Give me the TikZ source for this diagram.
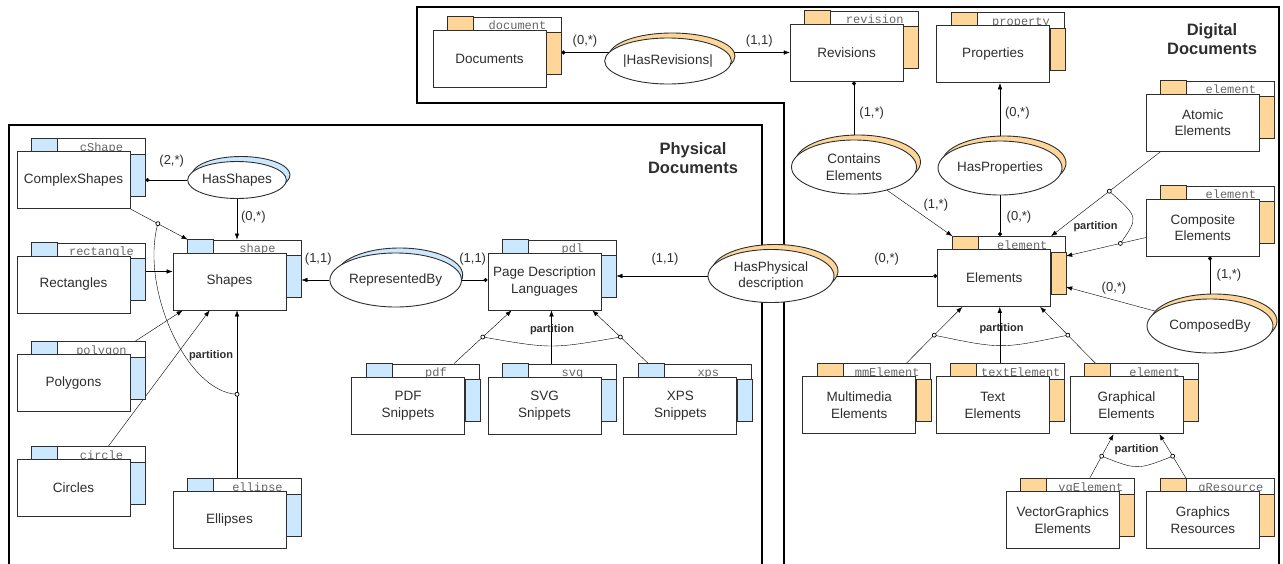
\documentclass[tikz,border=0pt]{standalone}
\usepackage{fontspec}
\setmainfont{Liberation Sans}
\setmonofont{Liberation Mono}
\usetikzlibrary{arrows.meta,calc,shapes.geometric}

\definecolor{physblue}{HTML}{CCE8FF}
\definecolor{digiorange}{HTML}{FFD699}
\definecolor{linegray}{HTML}{2E2E2E}
\definecolor{taggray}{HTML}{666666}

\pgfdeclarelayer{bg}
\pgfsetlayers{bg,main}

\tikzset{
  entback/.style={draw, fill=white, minimum width=113pt, minimum height=57pt, inner sep=0pt},
  entfront/.style={draw, fill=white, minimum width=113pt, minimum height=57pt, inner sep=0pt,
    align=center, font=\fontsize{13.5}{16.5}\selectfont},
  tagtext/.style={font=\ttfamily\fontsize{12}{12}\selectfont, text=taggray, inner sep=0pt, anchor=base},
  relback/.style={ellipse, draw, inner sep=0pt},
  relfront/.style={ellipse, draw, fill=white, inner sep=0pt, align=center,
    font=\fontsize{13.5}{16.5}\selectfont},
  card/.style={font=\fontsize{13}{15}\selectfont, inner sep=0pt},
  part/.style={font=\bfseries\fontsize{11}{13}\selectfont, inner sep=0pt},
  title/.style={font=\bfseries\fontsize{16.5}{19.5}\selectfont, align=center, inner sep=0pt},
  arr/.style={-{Latex[length=6pt,width=4.5pt]}},
  dotend/.style={-{Circle[length=4pt]}},
  frame/.style={line width=1.2pt},
}

% entity: name, position, label, tag, colour
\newcommand{\entity}[5]{%
  \node[entback] (#1-b) at ([shift={(15,-13)}]#2) {};
  \filldraw[fill=#5] (#1-b.north west) rectangle ++(26,16);
  \filldraw[fill=#5] ([shift={(-15,16)}]#1-b.north east) rectangle (#1-b.south east);
  \node[tagtext] (#1-t) at ([shift={(13,13)}]#1-b.north) {#4};
  \node[entfront] (#1) at (#2) {#3};}

% relationship: name, position, label, colour, width, height
\newcommand{\relship}[6]{%
  \node[relback, fill=#4, minimum width=#5, minimum height=#6] (#1-b) at ([shift={(4,-5)}]#2) {};
  \node[relfront, minimum width=#5, minimum height=#6] (#1) at (#2) {#3};}

\begin{document}
\begin{tikzpicture}[x=1pt,y=-1pt,line width=0.9pt,color=linegray]

  \useasboundingbox (0,0) rectangle (1283,563);

  % --- Physical documents: entities ---
  \entity{cs}{73.5,180}{ComplexShapes}{cShape}{physblue}
  \entity{rc}{73.5,284.5}{Rectangles}{rectangle}{physblue}
  \entity{pg}{73.5,383}{Polygons}{polygon}{physblue}
  \entity{ci}{73.5,488}{Circles}{circle}{physblue}
  \entity{sh}{229.5,281.5}{Shapes}{shape}{physblue}
  \entity{el}{229.5,520}{Ellipses}{ellipse}{physblue}
  \entity{pdl}{544.5,281.5}{Page Description\\Languages}{pdl}{physblue}
  \entity{pdf}{408,405.5}{PDF\\Snippets}{pdf}{physblue}
  \entity{svg}{544.5,405.5}{SVG\\Snippets}{svg}{physblue}
  \entity{xps}{680.3,405.5}{XPS\\Snippets}{xps}{physblue}

  % --- Digital documents: entities ---
  \entity{docs}{489.5,58.7}{Documents}{document}{digiorange}
  \entity{rev}{846.7,52.5}{Revisions}{revision}{digiorange}
  \entity{prop}{993,54.3}{Properties}{property}{digiorange}
  \entity{atom}{1202.8,122.5}{Atomic\\Elements}{element}{digiorange}
  \entity{comp}{1202.8,227.5}{Composite\\Elements}{element}{digiorange}
  \entity{elem}{994.2,278}{Elements}{element}{digiorange}
  \entity{mm}{859.2,405.3}{Multimedia\\Elements}{mmElement}{digiorange}
  \entity{txt}{992.8,405.3}{Text\\Elements}{textElement}{digiorange}
  \entity{gr}{1126.5,405.3}{Graphical\\Elements}{element}{digiorange}
  \entity{vg}{1062.8,520}{VectorGraphics\\Elements}{vgElement}{digiorange}
  \entity{gres}{1202.8,520}{Graphics\\Resources}{gResource}{digiorange}

  % --- Relationships ---
  \relship{hasSh}{237,180}{HasShapes}{physblue}{98pt}{37pt}
  \relship{repBy}{395.7,280}{RepresentedBy}{physblue}{126pt}{54pt}
  \relship{hasPh}{771,276}{HasPhysical\\description}{digiorange}{126pt}{53pt}
  \relship{hasRev}{668,61}{|HasRevisions|}{digiorange}{126pt}{46pt}
  \relship{contEl}{854,167}{Contains\\Elements}{digiorange}{125pt}{54pt}
  \relship{hasProp}{1000,168}{HasProperties}{digiorange}{124pt}{54pt}
  \relship{compBy}{1210,326}{ComposedBy}{digiorange}{126pt}{54pt}

  % --- Titles ---
  \node[title] (t-phys) at (693,158) {Physical\\Documents};
  \node[title] (t-digi) at (1212,39) {Digital\\Documents};

  % --- Cardinalities ---
  \node[card] (c1) at (171.7,160.7) {(2,*)};
  \node[card] (c2) at (253.3,217.3) {(0,*)};
  \node[card] (c3) at (318.3,259.3) {(1,1)};
  \node[card] (c4) at (472.7,259.3) {(1,1)};
  \node[card] (c5) at (665,259.3) {(1,1)};
  \node[card] (c6) at (886.6,259) {(0,*)};
  \node[card] (c7) at (585,41) {(0,*)};
  \node[card] (c8) at (759.3,41) {(1,1)};
  \node[card] (c9) at (871.7,112.7) {(1,*)};
  \node[card] (c10) at (1017.3,112.7) {(0,*)};
  \node[card] (c11) at (935.8,205) {(1,*)};
  \node[card] (c12) at (1019,217.3) {(0,*)};
  \node[card] (c13) at (1229,275) {(1,*)};
  \node[card] (c14) at (1114,288.3) {(0,*)};

  % --- Partition labels ---
  \node[part] (p-sh) at (211,356) {partition};
  \node[part] (p-pdl) at (552,330) {partition};
  \node[part] (p-el1) at (1095.5,226.7) {partition};
  \node[part] (p-el2) at (1001.5,329) {partition};
  \node[part] (p-gr) at (1136.7,450) {partition};

  \begin{pgfonlayer}{bg}
    % frames
    \draw[frame] (9,570) -- (9,125) -- (762,125) -- (762,570);
    \draw[frame] (784,570) -- (784,103) -- (417,103) -- (417,7) -- (1279,7) -- (1279,570);

    % --- Physical documents ---
    \draw[dotend] (hasSh) -- (hasSh -| cs-b.east);
    \draw[arr] (hasSh) -- (hasSh |- sh-b.north);
    \draw[arr] (repBy) -- (repBy -| sh-b.east);
    \draw[dotend] (repBy) -- (repBy -| pdl.west);
    \draw[arr] (hasPh) -- (hasPh -| pdl-b.east);

    \draw[arr] (cs.south east) -- (sh-b.north west) coordinate[pos=0.48] (sh-p1);
    \draw[arr] (rc-b.east) -- (rc-b.east -| sh.west);
    \draw[arr] ([xshift=-10pt]pg-b.north east) -- ([xshift=10pt]sh.south west);
    \draw[arr] ([xshift=20pt]ci-b.north) -- ([xshift=37pt]sh.south west);
    \draw[arr] (el-b.north -| hasSh) -- (hasSh |- sh.south) coordinate[pos=0.5] (sh-p2);
    \draw (sh-p1) .. controls +(-18,65) and +(-50,-2) .. (sh-p2);
    \filldraw[fill=white,line width=0.7pt] (sh-p1) circle (2pt) (sh-p2) circle (2pt);

    \draw[arr] ([xshift=31pt]pdf-b.north) -- ([xshift=24pt]pdl.south west) coordinate[pos=0.5] (pdl-p1);
    \draw[arr] ([xshift=-8pt]svg-b.north) -- ([xshift=-8pt]svg-b.north |- pdl.south);
    \draw[arr] ([xshift=10pt]xps-b.north west) -- ([xshift=-9pt]pdl.south east) coordinate[pos=0.5] (pdl-p2);
    \draw (pdl-p1) .. controls ($(pdl-p1)!0.5!(pdl-p2)+(0,12)$) .. (pdl-p2);
    \filldraw[fill=white,line width=0.7pt] (pdl-p1) circle (2pt) (pdl-p2) circle (2pt);

    % --- Digital documents ---
    \draw[dotend] (hasPh) -- (hasPh -| elem.west);
    \draw[dotend] (hasRev.center |- rev) -- (docs-b.east |- rev);
    \draw[arr] (hasRev.center |- rev) -- (rev.west);
    \draw[dotend] (contEl) -- (contEl |- rev.south);
    \draw[arr] (hasProp) -- (hasProp |- prop.south);
    \draw[arr] (contEl) -- (elem-b.north west);
    \draw[dotend] (hasProp) -- (hasProp |- elem-b.north);
    \draw[dotend] (compBy) -- (compBy |- comp.south);
    \draw[arr] (compBy) -- ([yshift=-22pt]elem-b.east);

    \draw[arr] ([xshift=15pt]atom.south west) -- ([xshift=-15pt]elem-b.north east) coordinate[pos=0.47] (el-p1);
    \draw[arr] ([yshift=-10pt]comp.west) -- ([yshift=9pt]elem-b.east) coordinate[pos=0.32] (el-p2);
    \draw (el-p1) .. controls ($(el-p1)!0.5!(el-p2)+(24,0)$) .. (el-p2);
    \filldraw[fill=white,line width=0.7pt] (el-p1) circle (2pt) (el-p2) circle (2pt);

    \draw[arr] ([xshift=32pt]mm-b.north) -- ([xshift=25pt]elem.south west) coordinate[pos=0.5] (el-p3);
    \draw[arr] ([xshift=-8pt]txt-b.north) -- ([xshift=-8pt]txt-b.north |- elem.south);
    \draw[arr] ([xshift=11pt]gr-b.north west) -- ([xshift=-11pt]elem.south east) coordinate[pos=0.5] (el-p4);
    \draw (el-p3) .. controls ($(el-p3)!0.5!(el-p4)+(0,14)$) .. (el-p4);
    \filldraw[fill=white,line width=0.7pt] (el-p3) circle (2pt) (el-p4) circle (2pt);

    \draw[arr] ([xshift=12pt]vg-b.north) -- ([xshift=-13pt]gr.south) coordinate[pos=0.5] (gr-p1);
    \draw[arr] ([xshift=25pt]gres-b.north west) -- ([xshift=-24pt]gr.south east) coordinate[pos=0.5] (gr-p2);
    \draw (gr-p1) .. controls ($(gr-p1)!0.5!(gr-p2)+(0,14)$) .. (gr-p2);
    \filldraw[fill=white,line width=0.7pt] (gr-p1) circle (2pt) (gr-p2) circle (2pt);
  \end{pgfonlayer}

\end{tikzpicture}
\end{document}
